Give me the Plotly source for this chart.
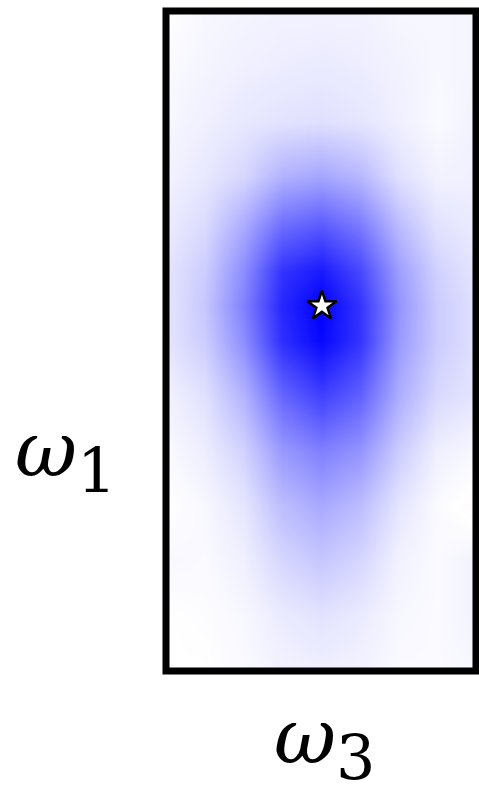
import plotly.graph_objects as go

# grid positions (fraction of the panel) and the density
omega3 = [0.0, 0.125, 0.25, 0.375, 0.5, 0.625, 0.75, 0.875, 1.0]
omega1 = [0.0, 0.083, 0.167, 0.25, 0.333, 0.417, 0.5, 0.553, 0.606, 0.667, 0.75, 0.833, 0.917, 1.0]

# rows listed bottom -> top
density = [
    [0.00, 0.00, 0.02, 0.05, 0.06, 0.05, 0.02, 0.02, 0.03],
    [0.00, 0.01, 0.03, 0.08, 0.11, 0.08, 0.03, 0.02, 0.05],
    [0.03, 0.02, 0.06, 0.16, 0.22, 0.16, 0.05, 0.02, 0.05],
    [0.00, 0.03, 0.10, 0.26, 0.34, 0.26, 0.10, 0.02, -0.02],
    [0.02, 0.07, 0.18, 0.40, 0.50, 0.42, 0.20, 0.06, 0.03],
    [0.05, 0.12, 0.30, 0.60, 0.75, 0.62, 0.32, 0.15, 0.10],
    [0.10, 0.20, 0.45, 0.82, 0.97, 0.80, 0.40, 0.20, 0.12],
    [0.10, 0.22, 0.50, 0.85, 1.00, 0.80, 0.42, 0.20, 0.12],
    [0.10, 0.20, 0.45, 0.80, 0.90, 0.72, 0.38, 0.18, 0.10],
    [0.08, 0.15, 0.35, 0.60, 0.68, 0.55, 0.28, 0.12, 0.08],
    [0.05, 0.09, 0.16, 0.30, 0.35, 0.28, 0.12, 0.05, 0.06],
    [0.03, 0.06, 0.09, 0.11, 0.12, 0.10, 0.06, 0.02, 0.05],
    [0.02, 0.04, 0.06, 0.07, 0.08, 0.07, 0.05, 0.03, 0.04],
    [0.00, 0.03, 0.04, 0.05, 0.05, 0.05, 0.03, 0.03, 0.04],
]

best_omega3 = [0.503]
best_omega1 = [0.553]

fig = go.Figure()

fig.add_trace(go.Heatmap(x=omega3, y=omega1, z=density, zsmooth='best',
                         zmin=-1, zmax=1, showscale=False, hoverinfo='skip',
                         colorscale=[[0, 'rgb(255,0,0)'], [0.5, 'rgb(255,255,255)'], [1, 'rgb(0,0,255)']]))

fig.add_trace(go.Scatter(x=best_omega3, y=best_omega1, mode='markers',
                         marker=dict(symbol='star', size=22, color='white',
                                     line=dict(color='black', width=2.5))))

fig.add_shape(type='rect', xref='paper', yref='paper', x0=0, x1=1, y0=0, y1=1,
              line=dict(color='black', width=7))

label_font = dict(family='DejaVu Serif', size=76, color='black')
fig.add_annotation(text='<i>ω</i><sub><span style="font-size:62px">1</span></sub>',
                   xref='paper', yref='paper', x=-0.495, y=0.245, showarrow=False,
                   font=label_font)
fig.add_annotation(text='<i>ω</i><sub><span style="font-size:62px">3</span></sub>',
                   xref='paper', yref='paper', x=0.51, y=-0.19, showarrow=False,
                   font=label_font)

fig.update_layout(width=479, height=796, showlegend=False,
                  margin=dict(l=166, r=3, t=11, b=125),
                  paper_bgcolor='white', plot_bgcolor='white')
fig.update_xaxes(range=[0, 1], visible=False)
fig.update_yaxes(range=[0, 1], visible=False)

fig.write_html("out.html", config={'displayModeBar': False},
               post_script="document.body.style.margin='0';")
